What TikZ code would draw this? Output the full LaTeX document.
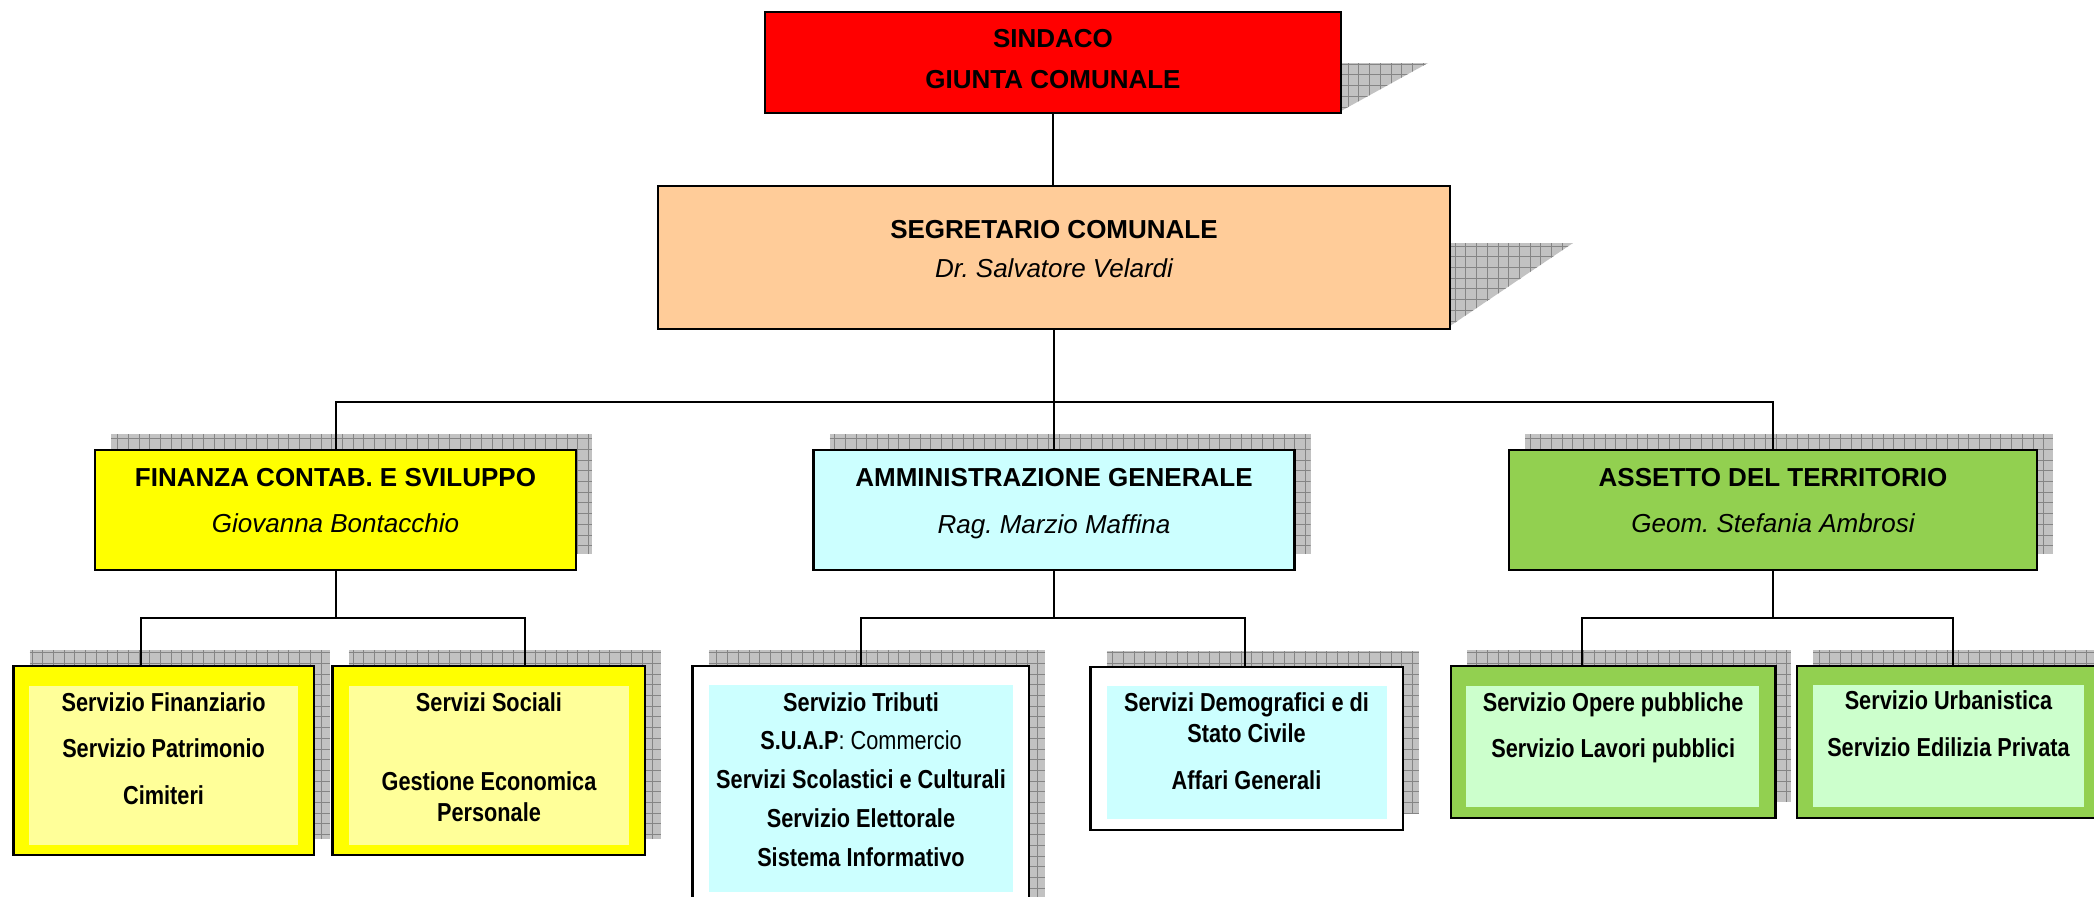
\documentclass[tikz,border=0pt]{standalone}
\usepackage{fontspec}
\setmainfont{Liberation Sans}
\newfontfamily\narrowsans[FakeStretch=0.835]{Liberation Sans}
\usetikzlibrary{backgrounds}
\frenchspacing
\definecolor{cRed}{HTML}{FF0000}
\definecolor{cPeach}{HTML}{FFCC99}
\definecolor{cYellow}{HTML}{FFFF00}
\definecolor{cYellowLt}{HTML}{FFFF99}
\definecolor{cCyan}{HTML}{CCFFFF}
\definecolor{cGreen}{HTML}{92D050}
\definecolor{cGreenLt}{HTML}{CCFFCC}
\begin{document}
\begin{tikzpicture}[x=1pt,y=-1pt,
  box/.style={draw=black, line width=2.8pt, rectangle, inner sep=0pt, outer sep=0pt},
  fillin/.style={rectangle, inner sep=0pt, outer sep=0pt, draw=none},
  shadowst/.style={fill=black!24, path picture={\draw[black!48, line width=1pt] (path picture bounding box.south west) grid[step=10.7pt] (path picture bounding box.north east);}},
  conn/.style={draw=black, line width=2pt},
  hd/.style={font=\frenchspacing\fontsize{26}{31}\selectfont\bfseries, inner sep=0pt, text height=18.6pt, text depth=0pt},
  nm/.style={font=\frenchspacing\fontsize{26}{31}\selectfont\itshape, inner sep=0pt, text height=18.6pt, text depth=0pt},
  sv/.style={font=\frenchspacing\narrowsans\fontsize{26}{31}\selectfont\bfseries, inner sep=0pt, text height=18.6pt, text depth=0pt}]
\useasboundingbox (0,0) rectangle (2094,897);

% ---- level 1
\node[box, fill=cRed, minimum width=576pt, minimum height=101pt] (sindaco) at (1053,62.5) {};
\node[hd] (sindacoA) at (1053,38.5) {SINDACO};
\node[hd] (sindacoB) at (1053,79) {GIUNTA COMUNALE};

\node[box, fill=cPeach, minimum width=792pt, minimum height=143pt] (segr) at (1054,257.5) {};
\node[hd] (segrA) at (1054,229.5) {SEGRETARIO COMUNALE};
\node[nm] (segrB) at (1054,268.3) {Dr.\ Salvatore Velardi};

% ---- level 2
\node[box, fill=cYellow, minimum width=481pt, minimum height=120pt] (fin) at (335.5,510) {};
\node[hd] (finA) at (335.5,476.7) {FINANZA CONTAB. E SVILUPPO};
\node[nm] (finB) at (335.5,523.5) {Giovanna Bontacchio};

\node[box, fill=cCyan, minimum width=481pt, minimum height=120pt] (amm) at (1054,510) {};
\node[hd] (ammA) at (1054,476.7) {AMMINISTRAZIONE GENERALE};
\node[nm] (ammB) at (1054,524.5) {Rag.\ Marzio Maffina};

\node[box, fill=cGreen, minimum width=528pt, minimum height=120pt] (ass) at (1773,510) {};
\node[hd] (assA) at (1773,476.7) {ASSETTO DEL TERRITORIO};
\node[nm] (assB) at (1773,523.5) {Geom.\ Stefania Ambrosi};

% ---- level 3 : finanza
\node[box, fill=cYellow, minimum width=300.5pt, minimum height=189pt] (fs1) at (163.75,760.5) {};
\node[fillin, fill=cYellowLt, minimum width=268.4pt, minimum height=159pt] (fs1in) at (163.6,765.5) {};
\node[sv] (fs1a) at (163.6,701.7) {Servizio Finanziario};
\node[sv] (fs1b) at (163.6,748.3) {Servizio Patrimonio};
\node[sv] (fs1c) at (163.6,795) {Cimiteri};

\node[box, fill=cYellow, minimum width=312.5pt, minimum height=189pt] (fs2) at (488.75,760.5) {};
\node[fillin, fill=cYellowLt, minimum width=280pt, minimum height=159pt] (fs2in) at (489,765.5) {};
\node[sv] (fs2a) at (489,701.7) {Servizi Sociali};
\node[sv] (fs2b) at (489,781) {Gestione Economica};
\node[sv] (fs2c) at (489,811.7) {Personale};

% ---- level 3 : amministrazione
\node[box, fill=white, minimum width=336.3pt, minimum height=249pt] (ag1) at (860.85,790.5) {};
\node[fillin, fill=cCyan, minimum width=304pt, minimum height=207pt] (ag1in) at (861,788.5) {};
\node[sv] (ag1a) at (861,701.7) {Servizio Tributi};
\node[sv] (ag1b) at (861,740.5) {S.U.A.P{\mdseries: Commercio}};
\node[sv] (ag1c) at (861,779.3) {Servizi Scolastici e Culturali};
\node[sv] (ag1d) at (861,818.1) {Servizio Elettorale};
\node[sv] (ag1e) at (861,856.8) {Sistema Informativo};

\node[box, fill=white, minimum width=312.4pt, minimum height=163pt] (ag2) at (1246.8,748.5) {};
\node[fillin, fill=cCyan, minimum width=279.5pt, minimum height=133.3pt] (ag2in) at (1246.75,752.65) {};
\node[sv] (ag2a) at (1246.5,701.7) {Servizi Demografici e di};
\node[sv] (ag2b) at (1246.5,733.3) {Stato Civile};
\node[sv] (ag2c) at (1246.5,780) {Affari Generali};

% ---- level 3 : assetto
\node[box, fill=cGreen, minimum width=324.4pt, minimum height=152pt] (at1) at (1613.2,742) {};
\node[fillin, fill=cGreenLt, minimum width=292.2pt, minimum height=121.3pt] (at1in) at (1612.5,746.65) {};
\node[sv] (at1a) at (1613.2,701.7) {Servizio Opere pubbliche};
\node[sv] (at1b) at (1613.2,748.3) {Servizio Lavori pubblici};

\node[box, fill=cGreen, minimum width=303pt, minimum height=152pt] (at2) at (1948.5,742) {};
\node[fillin, fill=cGreenLt, minimum width=271pt, minimum height=122pt] (at2in) at (1948.5,746) {};
\node[sv] (at2a) at (1948.5,700.5) {Servizio Urbanistica};
\node[sv] (at2b) at (1948.5,747.5) {Servizio Edilizia Privata};

% ---- shadows
\begin{scope}[on background layer]
  \fill[shadowst] ([shift={(0,51)}]sindaco.north east) -- ([shift={(87,51)}]sindaco.north east) -- ([shift={(0,-2)}]sindaco.south east) -- cycle;
  \fill[shadowst] ([shift={(0,57)}]segr.north east) -- ([shift={(123,57)}]segr.north east) -- ([shift={(0,-3)}]segr.south east) -- cycle;
  \foreach \b in {fin,amm,ass,fs1,fs2,ag1,ag2,at1,at2}{
    \fill[shadowst] ([shift={(16,-16)}]\b.south west) rectangle ([shift={(16,-16)}]\b.north east);
  }
\end{scope}

% ---- connectors
\coordinate (b0) at (1054,402);
\draw[conn] (sindaco.south) -- (sindaco.south |- segr.north);
\draw[conn] (segr.south) -- (b0);
\draw[conn] (fin.north) |- (b0) -| (ass.north);
\draw[conn] (b0) -- (amm.north);

\coordinate (bf) at (335.5,618);
\coordinate (fs1t) at (141,666);
\coordinate (fs2t) at (525,666);
\draw[conn] (fin.south) -- (bf);
\draw[conn] (fs1t) |- (bf) -| (fs2t);

\coordinate (ba) at (1054,618);
\coordinate (ag1t) at (861,666);
\coordinate (ag2t) at (1244.5,666);
\draw[conn] (amm.south) -- (ba);
\draw[conn] (ag1t) |- (ba) -| (ag2t);

\coordinate (bt) at (1773,618);
\coordinate (at1t) at (1581.5,666);
\coordinate (at2t) at (1953.3,666);
\draw[conn] (ass.south) -- (bt);
\draw[conn] (at1t) |- (bt) -| (at2t);
\end{tikzpicture}
\end{document}
